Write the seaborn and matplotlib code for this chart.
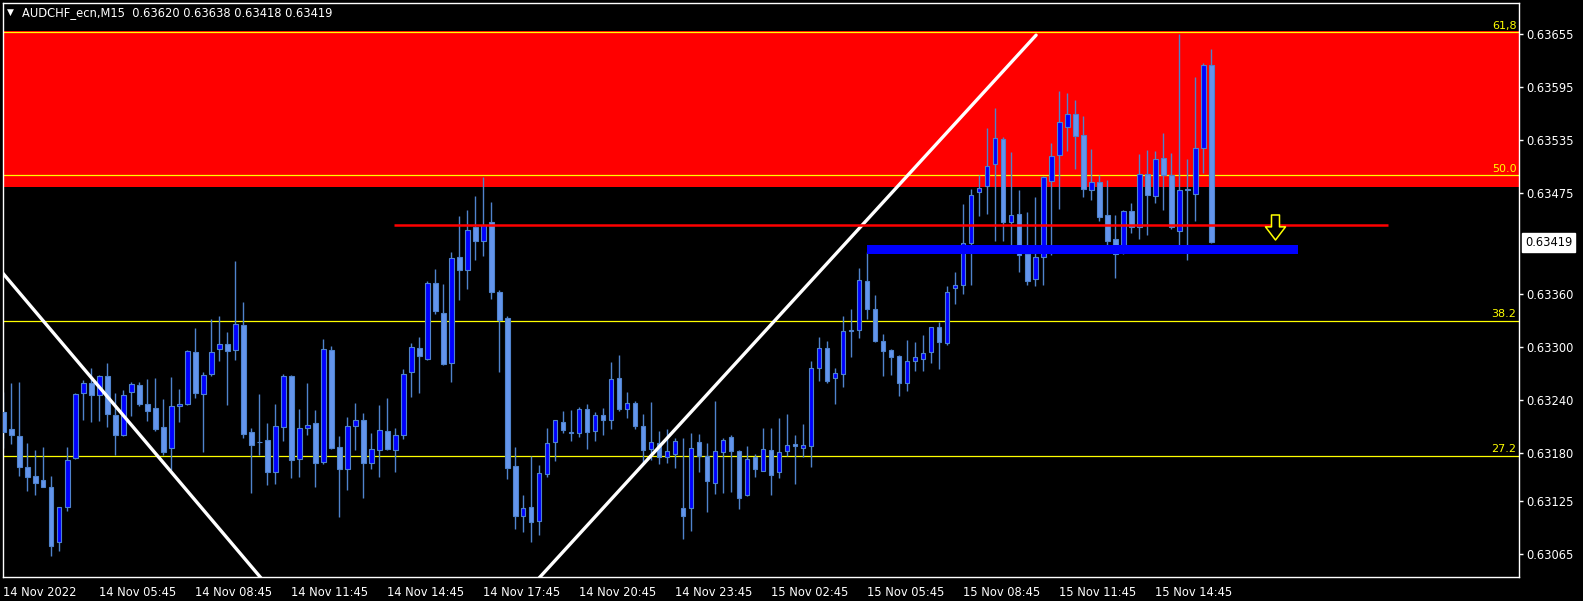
# Imports
import numpy as np
import pandas as pd
import matplotlib
matplotlib.use("Agg")
import matplotlib.pyplot as plt
from matplotlib.path import Path
import seaborn as sns

# AUDCHF M15 candles, prices in points (1e-5), bar 0 = 14 Nov 02:45
opens = [63226, 63207, 63199, 63164, 63154, 63149, 63141, 63079, 63119, 63174,
         63248, 63259, 63246, 63267, 63223, 63200, 63249, 63257, 63236, 63231,
         63209, 63186, 63233, 63236, 63294, 63247, 63270, 63298, 63304, 63297,
         63325, 63204, 63192, 63195, 63158, 63209, 63267, 63173, 63208, 63214,
         63170, 63297, 63187, 63162, 63210, 63217, 63169, 63183, 63205, 63183,
         63200, 63272, 63299, 63287, 63373, 63339, 63282, 63402, 63387, 63436,
         63420, 63442, 63363, 63333, 63165, 63109, 63119, 63103, 63156, 63192,
         63215, 63203, 63203, 63230, 63205, 63223, 63217, 63265, 63230, 63237,
         63211, 63184, 63191, 63175, 63179, 63118, 63118, 63192, 63177, 63146,
         63181, 63198, 63182, 63132, 63175, 63160, 63183, 63158, 63182, 63190,
         63186, 63188, 63276, 63299, 63265, 63270, 63318, 63319, 63375, 63343,
         63307, 63297, 63290, 63259, 63284, 63287, 63295, 63323, 63305, 63367,
         63371, 63418, 63476, 63483, 63508, 63536, 63442, 63451, 63406, 63377,
         63402, 63488, 63518, 63550, 63564, 63541, 63478, 63487, 63450, 63423,
         63408, 63455, 63436, 63497, 63472, 63515, 63495, 63432, 63479, 63474,
         63526, 63620]
highs = [63249, 63259, 63260, 63191, 63183, 63187, 63154, 63119, 63187, 63248,
         63263, 63276, 63268, 63282, 63248, 63251, 63260, 63260, 63264, 63265,
         63241, 63266, 63252, 63297, 63322, 63272, 63332, 63335, 63317, 63398,
         63351, 63208, 63247, 63214, 63236, 63270, 63268, 63230, 63259, 63229,
         63309, 63301, 63199, 63221, 63237, 63225, 63203, 63234, 63242, 63208,
         63275, 63305, 63312, 63375, 63389, 63372, 63408, 63449, 63456, 63472,
         63493, 63465, 63365, 63335, 63187, 63132, 63177, 63166, 63208, 63217,
         63228, 63229, 63232, 63236, 63226, 63231, 63283, 63291, 63249, 63239,
         63224, 63238, 63205, 63207, 63197, 63197, 63203, 63202, 63191, 63239,
         63197, 63200, 63183, 63188, 63179, 63208, 63208, 63220, 63224, 63200,
         63213, 63284, 63312, 63307, 63276, 63335, 63343, 63390, 63408, 63359,
         63315, 63298, 63291, 63308, 63306, 63314, 63323, 63329, 63369, 63385,
         63462, 63479, 63495, 63549, 63571, 63538, 63521, 63478, 63453, 63470,
         63494, 63532, 63591, 63588, 63580, 63562, 63525, 63495, 63490, 63450,
         63456, 63464, 63519, 63524, 63523, 63543, 63520, 63655, 63514, 63607,
         63622, 63638]
lows = [63186, 63190, 63154, 63137, 63132, 63141, 63063, 63069, 63114, 63173,
        63217, 63215, 63216, 63209, 63178, 63199, 63222, 63233, 63216, 63205,
        63178, 63161, 63215, 63234, 63242, 63181, 63267, 63284, 63234, 63285,
        63197, 63134, 63178, 63144, 63145, 63193, 63151, 63153, 63200, 63141,
        63167, 63185, 63107, 63138, 63183, 63129, 63162, 63153, 63183, 63158,
        63196, 63244, 63248, 63285, 63338, 63280, 63261, 63354, 63366, 63399,
        63403, 63355, 63272, 63150, 63094, 63090, 63079, 63087, 63153, 63171,
        63203, 63194, 63198, 63184, 63193, 63200, 63207, 63228, 63220, 63207,
        63169, 63172, 63167, 63169, 63163, 63082, 63091, 63158, 63113, 63133,
        63134, 63136, 63116, 63131, 63153, 63159, 63132, 63151, 63176, 63145,
        63175, 63164, 63262, 63259, 63235, 63255, 63289, 63310, 63332, 63306,
        63267, 63268, 63245, 63250, 63273, 63273, 63282, 63275, 63303, 63349,
        63360, 63370, 63449, 63451, 63421, 63421, 63412, 63385, 63370, 63369,
        63370, 63404, 63457, 63522, 63502, 63470, 63467, 63443, 63413, 63379,
        63406, 63429, 63423, 63427, 63463, 63456, 63434, 63412, 63399, 63443,
        63498, 63418]
closes = [63204, 63200, 63164, 63153, 63146, 63141, 63074, 63119, 63172, 63247,
          63259, 63246, 63267, 63224, 63200, 63246, 63258, 63235, 63228, 63207,
          63181, 63233, 63235, 63296, 63248, 63268, 63295, 63304, 63296, 63326,
          63202, 63189, 63192, 63158, 63210, 63267, 63172, 63208, 63212, 63169,
          63298, 63186, 63162, 63210, 63217, 63169, 63184, 63206, 63184, 63200,
          63270, 63300, 63290, 63373, 63341, 63281, 63401, 63388, 63433, 63421,
          63439, 63363, 63331, 63163, 63109, 63118, 63102, 63157, 63191, 63217,
          63206, 63203, 63230, 63204, 63223, 63217, 63264, 63230, 63237, 63210,
          63183, 63192, 63175, 63182, 63194, 63108, 63186, 63176, 63148, 63182,
          63195, 63182, 63129, 63173, 63162, 63185, 63155, 63181, 63189, 63188,
          63189, 63276, 63299, 63262, 63271, 63318, 63320, 63376, 63343, 63307,
          63296, 63289, 63259, 63284, 63289, 63293, 63323, 63306, 63363, 63371,
          63418, 63473, 63481, 63505, 63537, 63442, 63450, 63404, 63375, 63402,
          63493, 63517, 63555, 63565, 63540, 63480, 63487, 63448, 63420, 63406,
          63455, 63436, 63496, 63473, 63514, 63495, 63436, 63478, 63478, 63526,
          63620, 63419]

time_labels = ["14 Nov 2022", "14 Nov 05:45", "14 Nov 08:45", "14 Nov 11:45",
               "14 Nov 14:45", "14 Nov 17:45", "14 Nov 20:45", "14 Nov 23:45",
               "15 Nov 02:45", "15 Nov 05:45", "15 Nov 08:45", "15 Nov 11:45",
               "15 Nov 14:45"]
price_ticks = [0.63655, 0.63595, 0.63535, 0.63475, 0.63360,
               0.63300, 0.63240, 0.63180, 0.63125, 0.63065]

# objects drawn on the chart
fib_levels = [0.63657, 0.63495, 0.63330, 0.63177]
fib_names = ["61,8", "50.0", "38.2", "27.2"]
zone_top, zone_bottom = 0.63659, 0.63482
res_level, res_bars = 0.63439, [48.8, 173.1]
sup_band, sup_bars = [0.63406, 0.63416], [108, 161.8]
trend1_bars, trend1_prices = [-1, 34], [0.63394, 0.63019]
trend2_bars, trend2_prices = [60, 129.1], [0.62969, 0.63654]
arrow_bar, arrow_price = 158.9, 0.63436

header = "AUDCHF_ecn,M15  0.63620 0.63638 0.63418 0.63419"
last_price = closes[-1] / 1e5

#
df = pd.DataFrame({"open": opens, "high": highs, "low": lows, "close": closes}) / 1e5
df["bar"] = np.arange(len(df))
df["bull"] = df["close"] >= df["open"]

sns.set_theme(style="dark")
plt.rcParams["font.family"] = ["DejaVu Sans"]

BG = "black"
WICK = "#4F83CC"
BULL = "#0000FF"
BEAR = "#6495ED"
FG = "white"

# hollow down arrow marker (shape only)
arrow_marker = Path([(-0.32, 1.0), (0.32, 1.0), (0.32, 0.05), (0.8, 0.05),
                     (0.0, -1.0), (-0.8, 0.05), (-0.32, 0.05), (-0.32, 1.0)],
                    closed=True)

fig = plt.figure(figsize=(15.83, 6.01), dpi=100, facecolor=BG)
ax = fig.add_axes([2.7 / 1583, 1 - 577.3 / 601, (1519.3 - 2.7) / 1583, (577.3 - 2.7) / 601])
ax.set_facecolor(BG)

# red zone + fibo levels (background)
ax.axhspan(zone_bottom, zone_top, color="#FF0000", lw=0, zorder=0)
for lvl, name in zip(fib_levels, fib_names):
    ax.axhline(lvl, color="#FFFF00", lw=0.9, zorder=1)
    ax.annotate(name, xy=(1.0, lvl), xycoords=("axes fraction", "data"),
                xytext=(-2, 1), textcoords="offset points",
                ha="right", va="bottom", color="#FFFF00", fontsize=8)

# candles
ax.vlines(df["bar"], df["low"], df["high"], color=WICK, lw=1, zorder=2)
body_lo = df[["open", "close"]].min(axis=1)
body_h = (df["close"] - df["open"]).abs().clip(lower=0.000008)
ax.bar(df["bar"], body_h, bottom=body_lo, width=0.55,
       color=np.where(df["bull"], BULL, BEAR), edgecolor=WICK, linewidth=0.8, zorder=3)

# trend lines, resistance, support band, arrow
sns.lineplot(x=trend1_bars, y=trend1_prices, ax=ax, color="white", lw=2.4, zorder=4)
sns.lineplot(x=trend2_bars, y=trend2_prices, ax=ax, color="white", lw=2.4, zorder=4)
ax.hlines(res_level, res_bars[0], res_bars[1], color="#FF0000", lw=1.8, zorder=5)
ax.fill_between(sup_bars, sup_band[0], sup_band[1], color="#0000FF", lw=0, zorder=5)
ax.plot([arrow_bar], [arrow_price], marker=arrow_marker, markersize=18,
        markerfacecolor="black", markeredgecolor="#FFFF00", markeredgewidth=1.1,
        linestyle="none", zorder=6)

# header
ax.text(0.0025, 0.983, "\u25bc", transform=ax.transAxes, color=FG, fontsize=6.5,
        ha="left", va="center")
ax.text(0.0125, 0.983, header, transform=ax.transAxes, color=FG, fontsize=8.3,
        ha="left", va="center")

# axes
ax.set_xlim(-0.075, 189.5)
ax.set_ylim(0.630389, 0.636908)
ax.set_xticks(np.arange(0, 12 * len(time_labels), 12))
ax.set_xticklabels(time_labels, ha="left")
ax.set_yticks(price_ticks)
ax.set_yticklabels([f"{p:.5f}" for p in price_ticks])
ax.yaxis.tick_right()
ax.tick_params(axis="both", colors=FG, labelcolor=FG, direction="out",
               length=3, width=1, labelsize=8.3, pad=2)
ax.tick_params(axis="x", pad=3)
ax.grid(False)
for sp in ax.spines.values():
    sp.set_color(FG)
    sp.set_linewidth(1)
    sp.set_visible(True)

ax.annotate(f"{last_price:.5f}", xy=(1.0, last_price), xycoords=("axes fraction", "data"),
            xytext=(4.2, 0), textcoords="offset points", ha="left", va="center",
            color="black", fontsize=8.3,
            bbox=dict(boxstyle="square,pad=0.25", fc="white", ec="white"))

fig.savefig("out.png", dpi=100, facecolor=BG)
